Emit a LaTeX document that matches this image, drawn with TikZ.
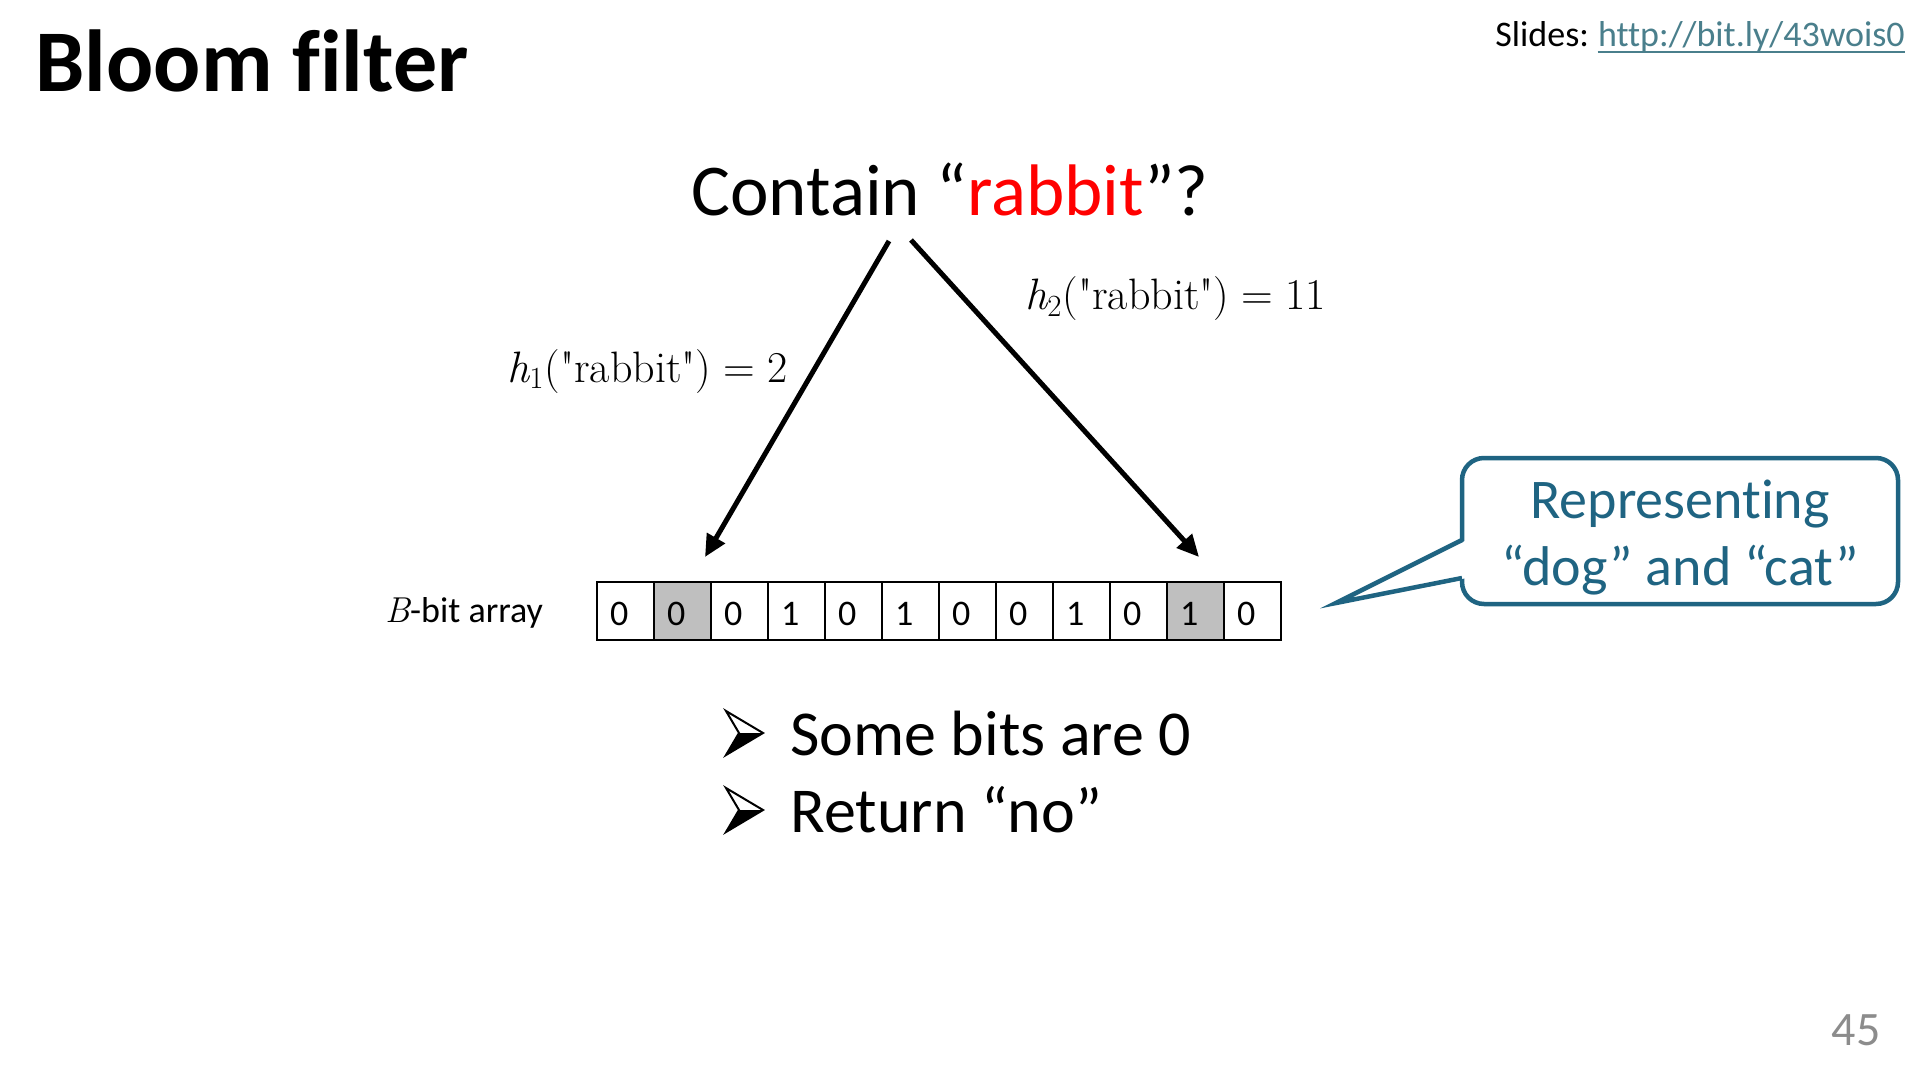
\documentclass[tikz,border=0pt]{standalone}
\usepackage[no-math]{fontspec}
\setmainfont{Carlito}[Ligatures={TeX,NoCommon}]
\newfontfamily\lmr{Latin Modern Roman}
\usetikzlibrary{arrows.meta}
\definecolor{calloutc}{HTML}{1F6482}
\definecolor{linkc}{HTML}{4A7F8C}
\definecolor{pagec}{HTML}{8C8C8C}
\definecolor{cellgray}{HTML}{BFBFBF}
\newcommand\hlab[2]{{\lmr\itshape h}\textsubscript{\lmr #1}{\lmr("rabbit")\hspace{0.28em}=\hspace{0.28em}#2}}
\begin{document}
\begin{tikzpicture}[x=0.5pt,y=-0.5pt,
  txt/.style={inner sep=0pt, anchor=base west},
  hasharrow/.style={line width=2.5pt, -{Triangle[length=11pt,width=10pt]}},
  cell/.style={draw, line width=1pt, minimum width=28.5pt, minimum height=29pt,
    inner ysep=0pt, inner xsep=6.5pt, text width=15.5pt, align=left,
    text height=14pt, text depth=0pt, font=\fontsize{18}{21}\selectfont},
  calloutbox/.style={draw=calloutc, line width=2.25pt, rounded corners=11pt,
    minimum width=218pt, minimum height=73pt, inner sep=0pt, fill=white},
  callouttxt/.style={inner sep=0pt, anchor=base, text=calloutc, font=\fontsize{28}{34}\selectfont},
  bulletline/.style={txt, font=\fontsize{32}{38}\selectfont},
  hashlabel/.style={txt, font=\fontsize{22}{26}\selectfont}
]
\fill[white] (0,0) rectangle (1920,1080);
\useasboundingbox (0,0) rectangle (1920,1080);

% title and header
\node[txt, font=\fontsize{44}{53}\selectfont\bfseries] (title) at (35,92) {Bloom filter};
\node[txt, font=\fontsize{18}{22}\selectfont] (sl) at (1495,47) {Slides:};
\node[txt, text=linkc, font=\fontsize{18}{22}\selectfont] (url) at ([xshift=4.1pt]sl.base east) {http://bit.ly/43wois0};
\draw[linkc, line width=0.9pt] ([yshift=-2.5pt]url.base west) -- ([yshift=-2.5pt]url.base east);

% question
\node[txt, font=\fontsize{36.5}{44}\selectfont] (q) at (691,216) {Contain “\textcolor{red}{rabbit}”?};

% bit array
\foreach \v/\f [count=\i from 0] in {0/white,0/cellgray,0/white,1/white,0/white,1/white,0/white,0/white,1/white,0/white,1/cellgray,0/white}{
  \node[cell, fill=\f] (c\i) at ({625.5+57*\i},611) {\v};
}
\node[txt, font=\fontsize{18}{22}\selectfont] (blabel) at (385,622) {{\lmr\itshape B}-bit array};

% hash arrows
\coordinate (s1) at (889,241);
\coordinate (e1) at (705,557);
\coordinate (s2) at (911,240);
\coordinate (e2) at (1199,557);
\draw[hasharrow] (s1) -- (e1);
\draw[hasharrow] (s2) -- (e2);
\node[hashlabel] (h1) at (507,382) {\hlab{1}{2}};
\node[hashlabel] (h2) at (1025,310) {\hlab{2}{11}};

% callout
\node[calloutbox] (cb) at (1680,531) {};
\coordinate (pa) at (1462,540);
\coordinate (pb) at (1462,578);
\coordinate (tip) at (1336,603);
\fill[white] ([xshift=2.5pt]pa) -- (tip) -- ([xshift=2.5pt]pb) -- cycle;
\draw[calloutc, line width=2.25pt, line join=miter, miter limit=12] (pa) -- (tip) -- (pb);
\node[callouttxt] (cl1) at (1680,518) {Representing};
\node[callouttxt] (cl2) at (1680,585) {“dog” and “cat”};

% bullets
\foreach \dy in {0,77}{
  \begin{scope}[shift={(0,\dy)}]
    \fill (739,733) -- (763,733) -- (726,755) -- cycle;
    \draw[line width=1pt, line join=miter] (726,711) -- (763,733) -- (726,755) -- (739,733) -- cycle;
  \end{scope}
}
\node[bulletline] (t1) at (790,755) {Some bits are 0};
\node[bulletline] (t2) at (790,832) {Return “no”};

% page number
\node[inner sep=0pt, anchor=base east, text=pagec, font=\fontsize{24}{29}\selectfont] (pg) at (1881,1045) {45};
\end{tikzpicture}
\end{document}
